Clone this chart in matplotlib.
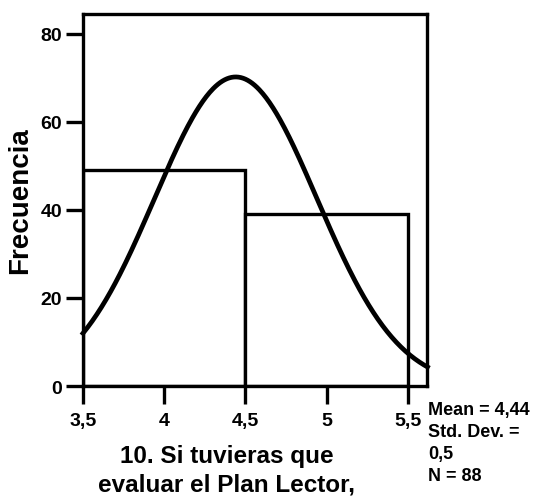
import numpy as np
import matplotlib
matplotlib.use("Agg")
import matplotlib.pyplot as plt

# histogram bins (edges) and counts
bin_edges = [3.5, 4.5, 5.5]
counts = [49, 39]
mean, std, n = 4.44, 0.5, 88

x_ticks = [3.5, 4, 4.5, 5, 5.5]
x_tick_labels = ["3,5", "4", "4,5", "5", "5,5"]
y_ticks = [0, 20, 40, 60, 80]
stats_lines = ["Mean = 4,44", "Std. Dev. =", "0,5", "N = 88"]

plt.rcParams['font.family'] = ['Liberation Sans', 'DejaVu Sans']
plt.rcParams['font.weight'] = 'bold'

fig = plt.figure(figsize=(5.46, 5.02), dpi=100)
ax = fig.add_axes([0.152, 0.229, 0.630, 0.741])

widths = np.diff(bin_edges)
ax.bar(bin_edges[:-1], counts, width=widths, align='edge',
       facecolor='white', edgecolor='black', linewidth=2.4, zorder=2)

# normal curve scaled to counts
xs = np.linspace(3.5, 5.62, 300)
ys = n * 1.0 / (std * np.sqrt(2 * np.pi)) * np.exp(-0.5 * ((xs - mean) / std) ** 2)
ax.plot(xs, ys, color='black', linewidth=3.4, zorder=3, clip_on=False)

ax.set_xlim(3.5, 5.617)
ax.set_ylim(0, 84.5)
ax.set_xticks(x_ticks)
ax.set_xticklabels(x_tick_labels)
ax.set_yticks(y_ticks)
ax.tick_params(axis='x', length=13, width=2.4, labelsize=14, pad=6)
ax.tick_params(axis='y', length=12, width=2.4, labelsize=14, pad=3)
for s in ax.spines.values():
    s.set_linewidth(2.4)

fig.text(0.037, 0.60, "Frecuencia", rotation=90, ha='center', va='center',
         fontsize=20, fontweight='bold')
fig.text(0.415, 0.063, "10. Si tuvieras que\nevaluar el Plan Lector,",
         ha='center', va='center', fontsize=17.5, fontweight='bold',
         linespacing=1.3)
for i, line in enumerate(stats_lines):
    fig.text(0.784, 1 - (411 + 22 * i) / 502, line, ha='left', va='center',
             fontsize=13, fontweight='bold')

fig.savefig("out.png", dpi=100)
